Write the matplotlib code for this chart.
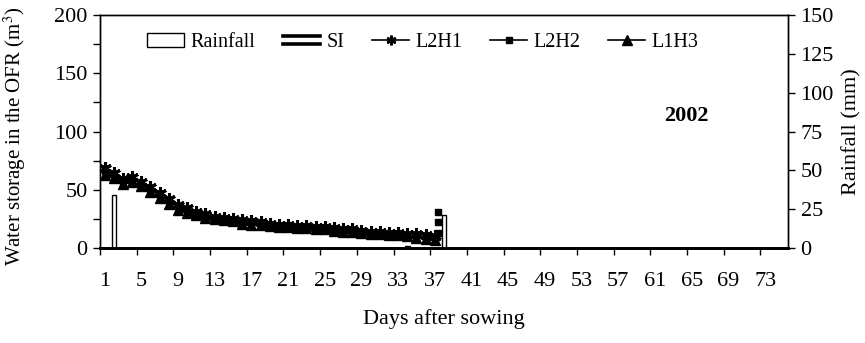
import matplotlib
matplotlib.use("Agg")
import matplotlib.pyplot as plt
from matplotlib.lines import Line2D
from matplotlib.patches import Patch
from matplotlib.legend_handler import HandlerBase
import numpy as np

plt.rcParams['font.family'] = ['Liberation Serif', 'DejaVu Serif']
plt.rcParams['mathtext.fontset'] = 'stix'

days = np.arange(1, 76)
day_labels = [str(d) for d in range(1, 76, 4)]

# Rainfall (mm) on right axis
rain_days = [2, 38]
rain_mm = [34, 21]
# Supplemental irrigation (mm)
si_days = [34]
si_mm = [1.5]

# Water storage (m3), days 1..37
l2h1 = [69, 64, 59, 61, 57, 52, 47, 42, 37, 34, 31, 29, 27, 26, 25, 24, 23, 22, 21,
        20, 20, 19, 19, 18, 18, 17, 16, 16, 15, 14, 14, 13, 13, 12, 12, 11, 10]
l2h2 = [66, 62, 57, 59, 55, 50, 45, 40, 35, 32, 29, 27, 26, 25, 24, 22, 21, 21, 20,
        19, 19, 18, 18, 17, 17, 16, 15, 15, 14, 13, 13, 12, 12, 11, 10, 9, 8]
l1h3 = [63, 60, 55, 57, 53, 48, 43, 38, 33, 30, 28, 26, 25, 24, 23, 21, 20, 20, 19,
        18, 18, 17, 17, 16, 16, 15, 14, 14, 13, 12, 12, 11, 11, 10, 9, 8, 7]
# isolated L2H2 readings at end of season
l2h2_end_day = [37.3, 37.3, 37.3]
l2h2_end = [13, 22, 31]


class DoubleLineHandler(HandlerBase):
    def create_artists(self, legend, orig_handle, xdescent, ydescent, width, height,
                       fontsize, trans):
        yc = height / 2 - ydescent
        off = height * 0.28
        l1 = Line2D([-xdescent, width - xdescent], [yc + off, yc + off], color='black', lw=2.6,
                    transform=trans)
        l2 = Line2D([-xdescent, width - xdescent], [yc - off, yc - off], color='black', lw=2.6,
                    transform=trans)
        return [l1, l2]


class SIKey:
    pass


fig = plt.figure(figsize=(8.65, 3.43), dpi=100)
ax = fig.add_axes([0.1156, 0.277, 0.7954, 0.679])
ax2 = ax.twinx()

ax.set_zorder(2)
ax.patch.set_visible(False)

n = len(l2h1)
x = days[:n]
ax.plot(x, l2h1, color='black', lw=1.2, marker=(6, 2, 0), ms=9, mew=2.2, zorder=3)
ax.plot(x, l2h2, color='black', lw=1.2, marker='s', ms=4, mfc='black', zorder=3)
ax.plot(x, l1h3, color='black', lw=1.2, marker='^', ms=7, zorder=3)
ax.plot(l2h2_end_day, l2h2_end, ls='none', marker='s', ms=4, color='black', zorder=3)

ax2.bar(rain_days, rain_mm, width=0.45, facecolor='white', edgecolor='black', lw=1.0)
ax2.bar(si_days, si_mm, width=0.5, facecolor='white', edgecolor='black', lw=1.0)

ax.set_xlim(0.5, 75.5)
ax.set_ylim(0, 200)
ax2.set_ylim(0, 150)

ax.set_xticks(np.arange(0.5, 76, 4))
ax.set_xticklabels([])
ax.set_xticks(range(1, 76, 4), minor=True)
ax.set_xticklabels(day_labels, minor=True)
ax.tick_params(axis='x', which='major', direction='out', length=5, width=1)
ax.tick_params(axis='x', which='minor', length=0, pad=17, labelsize=16)

ax.set_yticks([0, 50, 100, 150, 200])
ax.set_yticks([25, 75, 125, 175], minor=True)
ax.tick_params(axis='y', which='both', direction='out', length=5, width=1, labelsize=16, pad=4)
ax2.set_yticks([0, 25, 50, 75, 100, 125, 150])
ax2.tick_params(axis='y', direction='out', length=5, width=1, labelsize=16, pad=4)

for a in (ax, ax2):
    for s in a.spines.values():
        s.set_linewidth(1.0)
ax.spines['bottom'].set_linewidth(2.0)
ax2.spines['bottom'].set_linewidth(2.0)

ax.set_ylabel('Water storage in the OFR (m$^3$)', fontsize=15)
ax.yaxis.set_label_coords(-0.104, 0.48)
ax2.set_ylabel('Rainfall (mm)', fontsize=16, labelpad=6)
ax.set_xlabel('Days after sowing', fontsize=16, labelpad=13)

ax.text(0.852, 0.567, '2002', transform=ax.transAxes, fontsize=16, fontweight='bold',
        ha='center', va='center')

h_rain = Patch(facecolor='white', edgecolor='black', lw=1.0)
h_si = SIKey()
h1 = Line2D([], [], color='black', lw=1.2, marker=(6, 2, 0), ms=7, mew=1.8)
h2 = Line2D([], [], color='black', lw=1.2, marker='s', ms=4)
h3 = Line2D([], [], color='black', lw=1.2, marker='^', ms=7)
ax.legend([h_rain, h_si, h1, h2, h3], ['Rainfall', 'SI', 'L2H1', 'L2H2', 'L1H3'],
          handler_map={SIKey: DoubleLineHandler()},
          loc='upper left', bbox_to_anchor=(0.042, 1.003), ncol=5, frameon=False,
          fontsize=14.5, handlelength=1.85, handletextpad=0.3, columnspacing=1.38,
          handleheight=0.7)

fig.savefig('out.png', dpi=100)
